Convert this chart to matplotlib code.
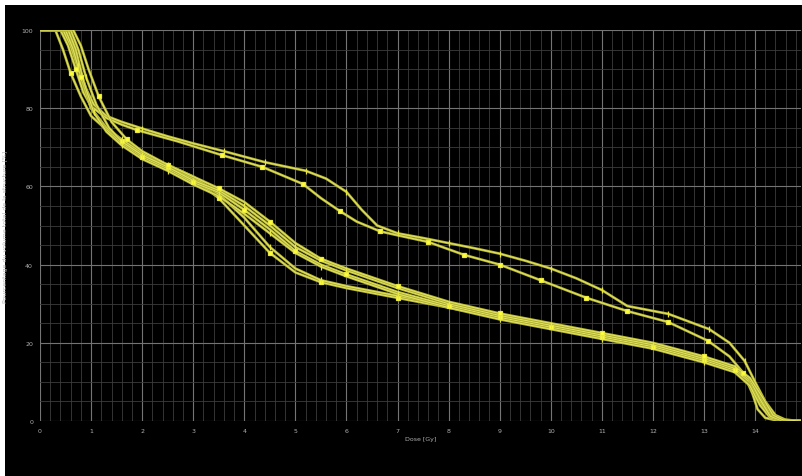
import matplotlib
matplotlib.use("Agg")
import matplotlib.pyplot as plt
import matplotlib.patheffects as pe
from matplotlib.patches import Rectangle
from matplotlib.ticker import MultipleLocator

# Dose-volume histogram curves (dose in Gy, volume in %)
u1_dose = [0, 0.45, 0.6, 0.75, 0.9, 1.05, 1.3, 1.6, 2.0, 2.5, 3.0, 3.6, 4.4, 5.2, 5.6, 6.0, 6.3, 6.6, 7.0, 7.5, 8.0, 8.5, 9.0, 9.5, 10.0, 10.5, 11.0, 11.5, 12.3, 13.1, 13.5, 13.8, 14.0, 14.2, 14.4, 14.6, 14.9]
u1_vol = [100, 100, 97, 91, 85, 81, 78, 76.5, 74.8, 72.8, 71, 69, 66.2, 64, 62, 58.6, 54, 50, 48, 46.8, 45.5, 44.2, 42.8, 41, 39, 36.5, 33.5, 29.4, 27.4, 23.5, 20, 15.3, 10, 5, 1.5, 0.3, 0]

u2_dose = [0, 0.4, 0.55, 0.7, 0.85, 1.0, 1.3, 1.6, 1.9, 2.7, 3.56, 4.35, 5.15, 5.5, 5.87, 6.2, 6.66, 7.0, 7.6, 8.3, 9.0, 9.8, 10.7, 11.5, 12.3, 13.08, 13.5, 13.77, 13.95, 14.05, 14.2, 14.4, 14.9]
u2_vol = [100, 100, 96, 90, 84, 80.5, 77.5, 75.8, 74.4, 71.5, 68, 65, 60.6, 57, 53.7, 51, 48.5, 47.5, 45.8, 42.5, 40, 36, 31.5, 28.1, 25.3, 20.5, 16.5, 12.3, 7, 3, 0.8, 0.2, 0]

l1_dose = [0, 0.3, 0.45, 0.6, 0.8, 1.0, 1.3, 1.6, 2.0, 2.5, 3.0, 3.5, 4.0, 4.5, 5.0, 5.5, 6.0, 7.0, 8.0, 9.0, 10.0, 11.0, 12.0, 13.0, 13.6, 13.9, 14.1, 14.3, 14.5, 14.9]
l1_vol = [100, 100, 95, 89, 83, 78, 74.5, 71.5, 68, 65, 62, 57, 50, 43, 38, 35.5, 34, 31.5, 29, 26.5, 24, 21.5, 19, 15.5, 13, 10, 5, 1, 0.2, 0]

l2_dose = [0, 0.45, 0.6, 0.8, 1.0, 1.3, 1.6, 2.0, 2.5, 3.0, 3.5, 4.0, 4.5, 5.0, 5.5, 6.0, 7.0, 8.0, 9.0, 10.0, 11.0, 12.0, 13.0, 13.6, 13.9, 14.1, 14.3, 14.5, 14.9]
l2_vol = [100, 100, 96, 88, 80, 75, 72, 68.5, 65.5, 62.5, 58, 52, 44.5, 39, 36, 34.5, 32, 29.5, 27, 24.5, 22, 19.5, 16, 13.5, 10.5, 6, 1.5, 0.3, 0]

l3_dose = [0, 0.5, 0.65, 0.8, 1.0, 1.3, 1.6, 2.0, 2.5, 3.0, 3.5, 4.0, 4.5, 5.0, 5.5, 6.0, 7.0, 8.0, 9.0, 10.0, 11.0, 12.0, 13.0, 13.6, 13.9, 14.1, 14.3, 14.5, 14.9]
l3_vol = [100, 100, 95, 88, 80, 74.5, 71, 67.5, 64.5, 61, 58.5, 54, 49, 43.5, 40, 37.5, 33, 29.5, 26.5, 24, 21.5, 19, 15.5, 13, 10, 5, 1, 0.2, 0]

l4_dose = [0, 0.55, 0.7, 0.85, 1.05, 1.3, 1.6, 2.0, 2.5, 3.0, 3.5, 4.0, 4.5, 5.0, 5.5, 6.0, 7.0, 8.0, 9.0, 10.0, 11.0, 12.0, 13.0, 13.6, 13.9, 14.1, 14.3, 14.5, 14.9]
l4_vol = [100, 100, 95, 87, 79, 74, 70.5, 67, 64, 60.5, 57.5, 53, 48, 43, 39.5, 37, 32.5, 29, 26, 23.5, 21, 18.5, 15, 12.5, 9, 4, 0.8, 0.2, 0]

l5_dose = [0, 0.6, 0.75, 0.9, 1.1, 1.35, 1.6, 2.0, 2.5, 3.0, 3.5, 4.0, 4.5, 5.0, 5.5, 6.0, 7.0, 8.0, 9.0, 10.0, 11.0, 12.0, 13.0, 13.6, 13.9, 14.1, 14.3, 14.5, 14.9]
l5_vol = [100, 100, 95, 88, 81, 75, 71.5, 68, 65, 61.5, 59, 55, 50, 44.5, 41, 38.5, 34, 30, 27, 24.5, 22, 19.5, 16, 13.5, 10.5, 5.5, 1.2, 0.2, 0]

l6_dose = [0, 0.65, 0.8, 0.95, 1.15, 1.4, 1.7, 2.0, 2.5, 3.0, 3.5, 4.0, 4.5, 5.0, 5.5, 6.0, 7.0, 8.0, 9.0, 10.0, 11.0, 12.0, 13.0, 13.6, 13.9, 14.15, 14.35, 14.55, 14.9]
l6_vol = [100, 100, 96, 90, 83, 76.5, 72, 69, 65.5, 62.5, 59.5, 56, 51, 45.5, 41.5, 39, 34.5, 30.5, 27.5, 25, 22.5, 20, 16.5, 14, 11, 6, 1.5, 0.3, 0]

# (dose, volume, marker symbol, indices of the points that carry a marker)
curves = [
    (u1_dose, u1_vol, "|", [3, 8, 11, 12, 13, 15, 18, 20, 22, 24, 26, 28, 29, 31]),
    (u2_dose, u2_vol, "s", [3, 8, 10, 11, 12, 14, 16, 18, 19, 20, 21, 22, 23, 24, 25, 27]),
    (l1_dose, l1_vol, "s", [3, 7, 9, 11, 13, 15, 17, 19, 21, 23]),
    (l2_dose, l2_vol, "|", [3, 6, 8, 10, 12, 14, 16, 18, 20, 22]),
    (l3_dose, l3_vol, "s", [3, 7, 9, 11, 13, 15, 17, 19, 21, 23]),
    (l4_dose, l4_vol, "|", [4, 6, 8, 10, 12, 14, 16, 18, 20, 22]),
    (l5_dose, l5_vol, "|", [3, 7, 9, 11, 13, 15, 17, 19, 21, 23]),
    (l6_dose, l6_vol, "s", [4, 6, 8, 10, 12, 14, 16, 18, 20, 22]),
]

x_ticks = list(range(0, 15))
y_ticks = [0, 20, 40, 60, 80, 100]

fig = plt.figure(figsize=(8.03, 4.77), dpi=100)
fig.patch.set_facecolor("white")
fig.add_artist(Rectangle((5 / 803, 0), 1, 1 - 6 / 477, transform=fig.transFigure,
                         facecolor="black", edgecolor="none", zorder=0))

ax = fig.add_axes([40 / 803, 1 - 422 / 477, 761 / 803, 391 / 477])
ax.set_facecolor("black")
ax.set_xlim(0, 14.9)
ax.set_ylim(0, 100)

ax.xaxis.set_minor_locator(MultipleLocator(0.2))
ax.yaxis.set_minor_locator(MultipleLocator(5))
ax.set_xticks(x_ticks)
ax.set_yticks(y_ticks)
ax.grid(which="major", color="#747474", linewidth=0.8)
ax.grid(which="minor", color="#3c3c3c", linewidth=0.6)
ax.set_axisbelow(True)
for s in ax.spines.values():
    s.set_visible(False)
ax.tick_params(which="both", length=0, colors="#b0b0b0", labelsize=4.5, pad=5)

for dose, vol, mk, idx in curves:
    ax.plot(dose, vol, color="#e4e468", linewidth=0.7, zorder=3,
            path_effects=[pe.Stroke(linewidth=1.9, foreground="#b4b432"), pe.Normal()])
    ax.plot([dose[i] for i in idx], [vol[i] for i in idx], linestyle="none",
            marker=mk, markersize=3.2 if mk == "s" else 4.5, markeredgewidth=0.9,
            color="#ffff3c", markeredgecolor="#e8e840", zorder=4)

ax.set_xlabel("Dose [Gy]", fontsize=4.5, color="#b0b0b0", labelpad=2)
ax.set_ylabel("Pourcentage du volume total de la structure [%]", fontsize=4.5,
              color="#b0b0b0")
ax.yaxis.set_label_coords(-0.042, 0.5)

fig.savefig("out.png", dpi=100, facecolor=fig.get_facecolor())
